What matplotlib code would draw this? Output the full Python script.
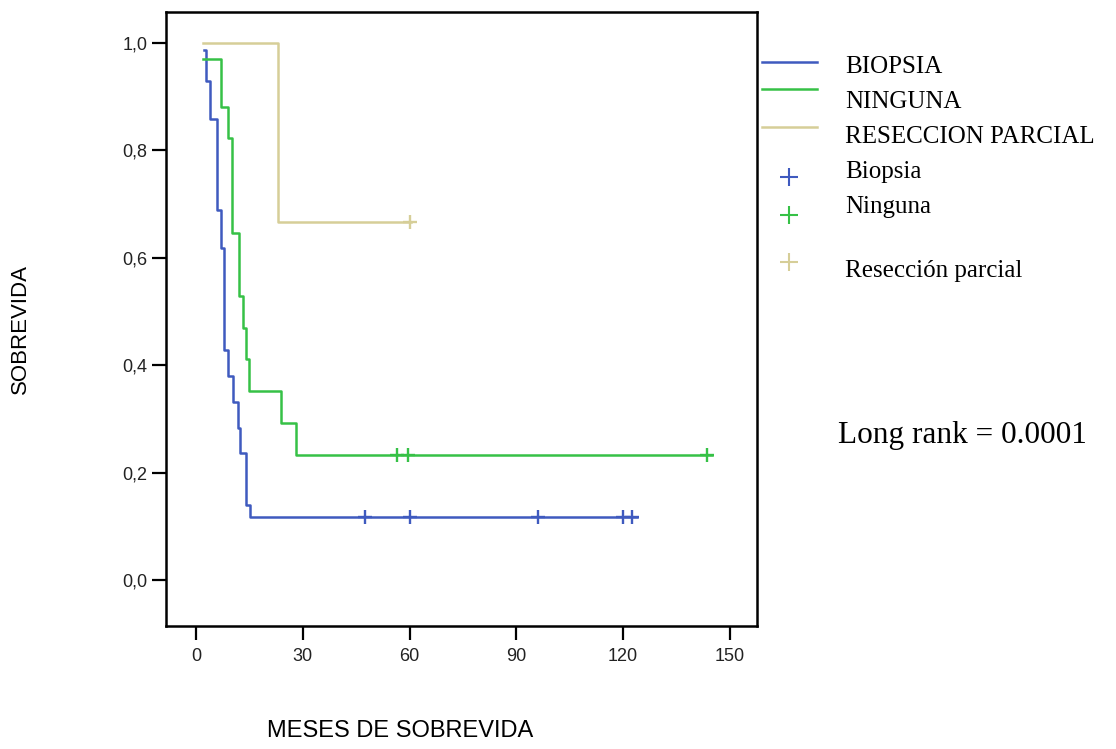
# Kaplan-Meier survival curves by type of surgery
import matplotlib
matplotlib.use("Agg")
import matplotlib.pyplot as plt
from matplotlib.lines import Line2D

# --- Data ---
biopsia_t = [2.2, 2.8, 3.9, 6.0, 7.0, 7.9, 9.1, 10.5, 11.7, 12.4, 14.1, 15.1, 124]
biopsia_s = [0.988, 0.929, 0.858, 0.689, 0.618, 0.428, 0.379, 0.332, 0.283, 0.236, 0.140, 0.118, 0.118]
biopsia_cens_t = [47.5, 60, 96, 120, 122.5]

ninguna_t = [2.0, 7.0, 9.1, 10.1, 12.1, 13.1, 14.1, 14.9, 23.9, 28.0, 145]
ninguna_s = [0.970, 0.881, 0.824, 0.647, 0.528, 0.469, 0.411, 0.351, 0.292, 0.233, 0.233]
ninguna_cens_t = [56.6, 59.7, 143.5]

reseccion_t = [2.1, 23.0, 60.5]
reseccion_s = [1.0, 0.667, 0.667]
reseccion_cens_t = [60]

x_ticks = [0, 30, 60, 90, 120, 150]
y_ticks = [0.0, 0.2, 0.4, 0.6, 0.8, 1.0]
y_tick_labels = ["0,0", "0,2", "0,4", "0,6", "0,8", "1,0"]

blue = "#3F5ABF"
green = "#36C146"
tan = "#D6CE98"

W, H = 1116, 749
fig = plt.figure(figsize=(W / 100, H / 100), dpi=100)
ax = fig.add_axes([166 / W, 1 - 626 / H, (757 - 166) / W, (626 - 12) / H])

lw = 1.8
for t, s, c in [(biopsia_t, biopsia_s, blue), (ninguna_t, ninguna_s, green),
                (reseccion_t, reseccion_s, tan)]:
    ax.step(t, s, where="post", color=c, lw=lw)

ax.plot(biopsia_cens_t, [biopsia_s[-1]] * len(biopsia_cens_t), "+", color=blue, ms=10, mew=1.7)
ax.plot(ninguna_cens_t, [ninguna_s[-1]] * len(ninguna_cens_t), "+", color=green, ms=10, mew=1.7)
ax.plot(reseccion_cens_t, [reseccion_s[-1]] * len(reseccion_cens_t), "+", color=tan, ms=10, mew=1.7)

ax.set_xlim(-8.4, 157.6)
ax.set_ylim(-0.086, 1.058)
ax.set_xticks(x_ticks)
ax.set_yticks(y_ticks)
ax.set_yticklabels(y_tick_labels)
for sp in ax.spines.values():
    sp.set_linewidth(1.8)
ax.tick_params(axis="both", length=10, width=1.6, labelsize=13, labelcolor="#222222")
ax.tick_params(axis="x", pad=6)
ax.tick_params(axis="y", pad=3.5)
for lab in ax.get_xticklabels() + ax.get_yticklabels():
    lab.set_family("Liberation Sans")

# axis titles
fig.text(20.7 / W, 1 - 329 / H, "SOBREVIDA", rotation=90, ha="center", va="center",
         fontsize=16, family="Liberation Sans")
fig.text(400 / W, 1 - 737 / H, "MESES DE SOBREVIDA", ha="center", va="baseline",
         fontsize=17, family="Liberation Sans")

# legend, drawn by hand to keep the uneven spacing
serif = "Liberation Serif"
for y, c in [(61.7, blue), (89.3, green), (127.3, tan)]:
    fig.add_artist(Line2D([762 / W, 817 / W], [1 - y / H, 1 - y / H], color=c, lw=1.8))
for y, c in [(176.7, blue), (215, green), (261.7, tan)]:
    fig.add_artist(Line2D([789 / W], [1 - y / H], marker="+", color=c, ms=13, mew=1.5))
labels = [("BIOPSIA", 73.3), ("NINGUNA", 108.3), ("RESECCION PARCIAL", 143.3),
          ("Biopsia", 178.3), ("Ninguna", 213.3), ("Resección parcial", 277.3)]
for txt, y in labels:
    fig.text(845 / W, 1 - y / H, txt, ha="left", va="baseline", fontsize=18, family=serif)

fig.text(838 / W, 1 - 442.7 / H, "Long rank = 0.0001", ha="left", va="baseline",
         fontsize=22.5, family=serif)

fig.savefig("out.png", dpi=100)
